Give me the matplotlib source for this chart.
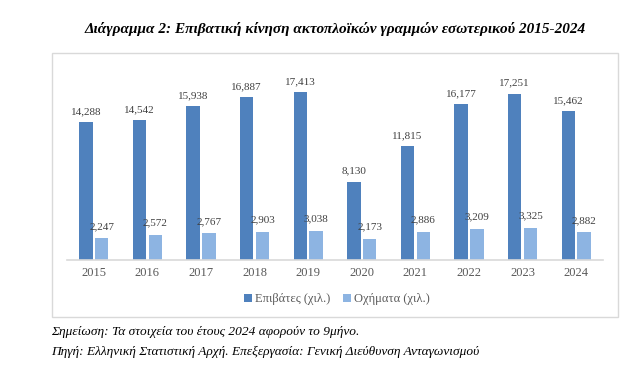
import matplotlib.pyplot as plt
import matplotlib.patches as mpatches
import numpy as np

years = ['2015', '2016', '2017', '2018', '2019', '2020', '2021', '2022', '2023', '2024']
passengers = [14288, 14542, 15938, 16887, 17413, 8130, 11815, 16177, 17251, 15462]
vehicles = [2247, 2572, 2767, 2903, 3038, 2173, 2886, 3209, 3325, 2882]
series_names = ['Επιβάτες (χιλ.)', 'Οχήματα (χιλ.)']

dark = '#4F81BD'
light = '#8DB4E2'
serif = 'Liberation Serif'

fig = plt.figure(figsize=(6.37, 3.70), dpi=100)

# chart border
fig.patches.append(mpatches.Rectangle((0.0816, 0.1432), 0.8885, 0.7135, transform=fig.transFigure,
                                      fill=False, edgecolor='#D9D9D9', linewidth=1.0))

ax = fig.add_axes([0.1052, 0.2973, 0.8414, 0.5208])
x = np.arange(len(years))
w = 0.248
b1 = ax.bar(x - 0.147, passengers, w, color=dark, label=series_names[0])
b2 = ax.bar(x + 0.147, vehicles, w, color=light, label=series_names[1])

for rect, v in zip(b1, passengers):
    ax.annotate(f'{v:,}', (rect.get_x() + rect.get_width() / 2, v), xytext=(0, 7.6),
                textcoords='offset points', ha='center', va='center',
                fontsize=8, family=serif, color='#404040')
for rect, v in zip(b2, vehicles):
    ax.annotate(f'{v:,}', (rect.get_x() + rect.get_width() / 2, v), xytext=(0, 8.6),
                textcoords='offset points', ha='center', va='center',
                fontsize=8, family=serif, color='#404040')

ax.set_xlim(-0.5, len(years) - 0.5)
ax.set_ylim(0, 20000)
ax.set_xticks(x)
ax.set_xticklabels(years, family=serif, fontsize=9, color='#595959')
ax.tick_params(axis='x', length=0, pad=5)
ax.set_yticks([])
for s in ['top', 'right', 'left']:
    ax.spines[s].set_visible(False)
ax.spines['bottom'].set_color('#D9D9D9')
ax.spines['bottom'].set_linewidth(1.2)

fig.legend(handles=[b1, b2], loc='center', bbox_to_anchor=(337 / 637, 1 - 299 / 370), ncol=2,
           frameon=False, prop={'family': serif, 'size': 9}, handlelength=0.6, handleheight=0.6,
           handletextpad=0.3, columnspacing=1.0, labelcolor='#595959')

fig.text(84 / 637, 1 - 29 / 370, 'Διάγραμμα 2: Επιβατική κίνηση ακτοπλοϊκών γραμμών εσωτερικού 2015-2024',
         ha='left', va='center', family=serif, fontsize=11, fontweight='bold', style='italic')
fig.text(51 / 637, 1 - 332 / 370, 'Σημείωση: Τα στοιχεία του έτους 2024 αφορούν το 9μήνο.',
         ha='left', va='center', family=serif, fontsize=9.6, style='italic')
fig.text(51 / 637, 1 - 352 / 370, 'Πηγή: Ελληνική Στατιστική Αρχή. Επεξεργασία: Γενική Διεύθυνση Ανταγωνισμού',
         ha='left', va='center', family=serif, fontsize=9.6, style='italic')

fig.savefig('out.png', dpi=100)
